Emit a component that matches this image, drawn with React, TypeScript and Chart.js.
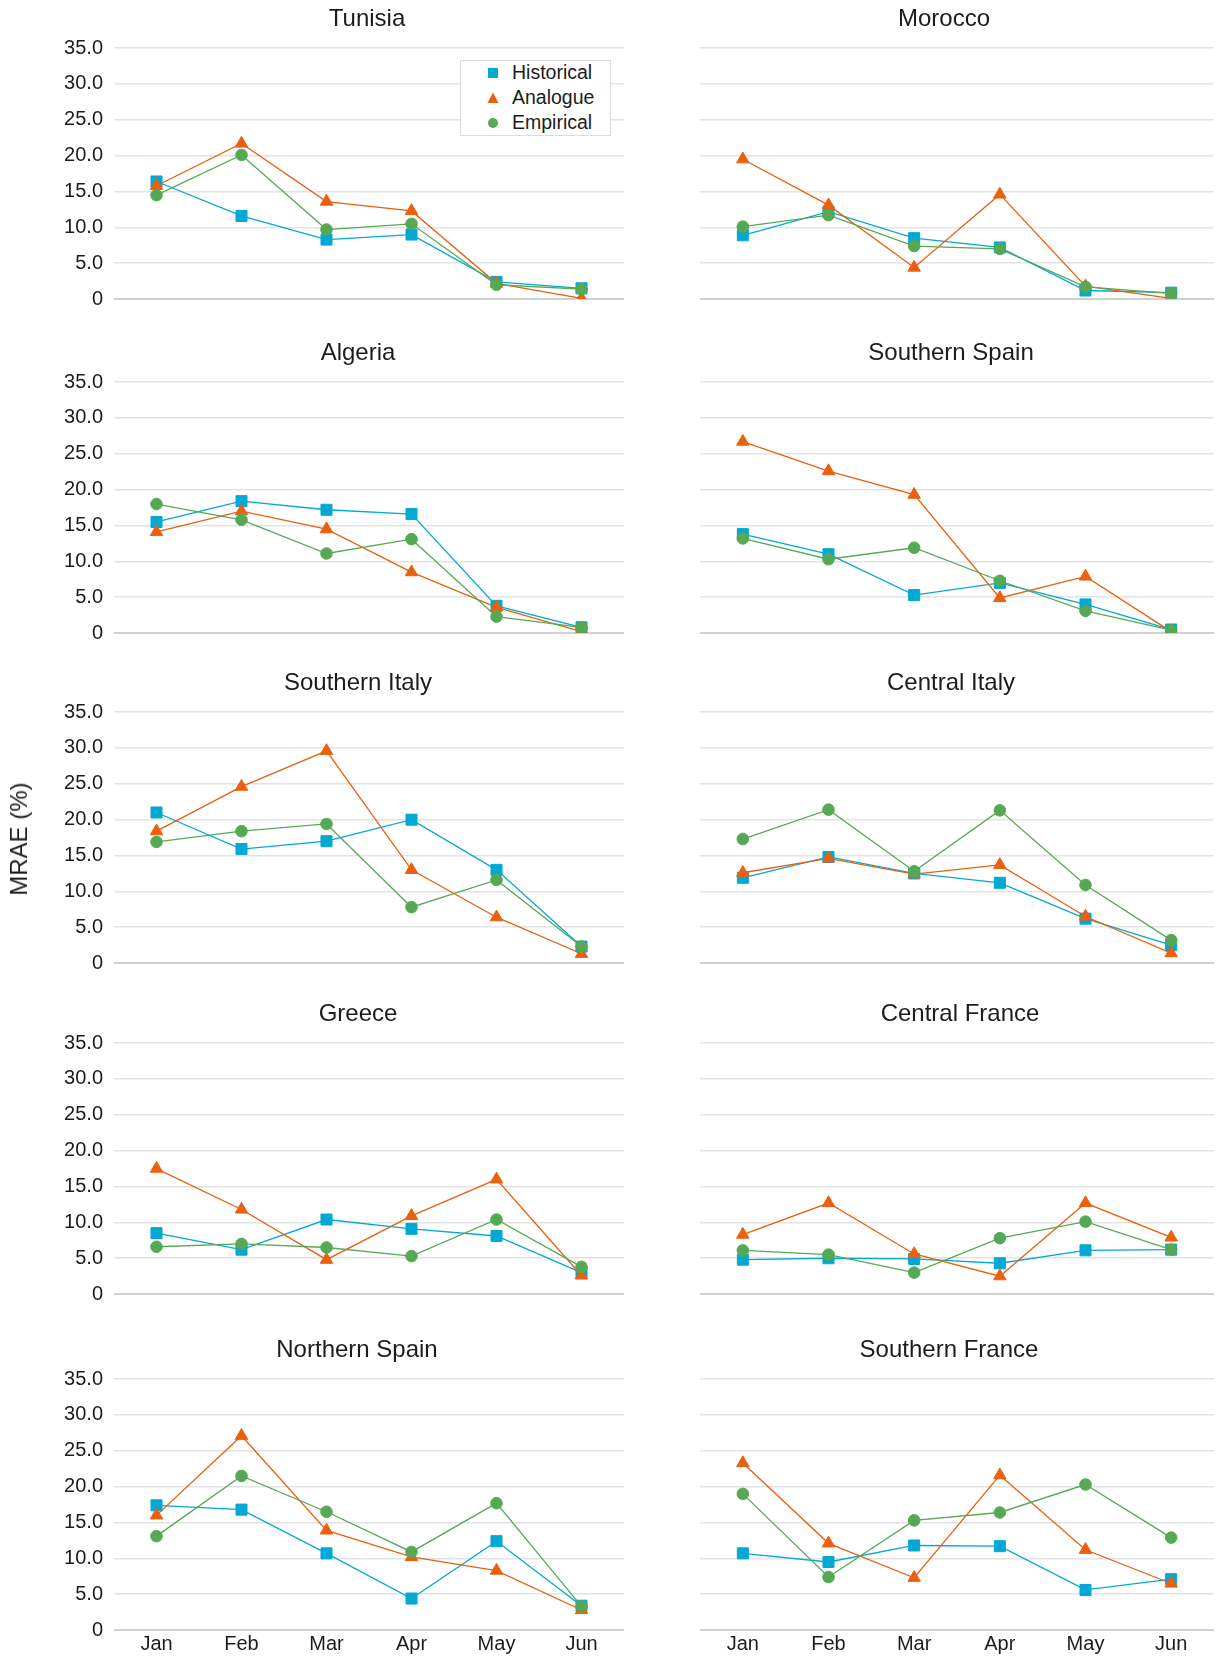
import React, { useEffect, useRef } from "react";
import { Chart, registerables } from "chart.js";

Chart.register(...registerables);

const FONT = "'Liberation Sans', Arial, Helvetica, sans-serif";
Chart.defaults.font.family = FONT;

const MONTHS = ["Jan", "Feb", "Mar", "Apr", "May", "Jun"];
const SERIES_NAMES = ["Historical", "Analogue", "Empirical"];
const Y_TICKS_MAX = 35;
const Y_STEP = 5;
const Y_TITLE = "MRAE (%)";

const tunisiaHistorical = [16.4, 11.6, 8.3, 9.0, 2.4, 1.5];
const tunisiaAnalogue = [15.8, 21.7, 13.6, 12.3, 2.2, 0.1];
const tunisiaEmpirical = [14.5, 20.1, 9.7, 10.5, 2.0, 1.4];

const moroccoHistorical = [8.9, 12.2, 8.5, 7.2, 1.2, 0.9];
const moroccoAnalogue = [19.5, 13.1, 4.4, 14.6, 1.8, 0.1];
const moroccoEmpirical = [10.1, 11.7, 7.4, 7.0, 1.7, 0.8];

const algeriaHistorical = [15.5, 18.4, 17.2, 16.6, 3.8, 0.8];
const algeriaAnalogue = [14.1, 17.0, 14.5, 8.5, 3.6, 0.2];
const algeriaEmpirical = [18.0, 15.8, 11.1, 13.1, 2.3, 0.8];

const southernSpainHistorical = [13.8, 11.0, 5.3, 7.0, 4.0, 0.5];
const southernSpainAnalogue = [26.7, 22.6, 19.3, 4.9, 7.9, 0.2];
const southernSpainEmpirical = [13.2, 10.3, 11.9, 7.3, 3.1, 0.4];

const southernItalyHistorical = [21.0, 15.9, 17.0, 20.0, 13.0, 2.3];
const southernItalyAnalogue = [18.4, 24.6, 29.6, 13.0, 6.4, 1.3];
const southernItalyEmpirical = [16.9, 18.4, 19.4, 7.8, 11.6, 2.3];

const centralItalyHistorical = [11.9, 14.8, 12.5, 11.2, 6.2, 2.5];
const centralItalyAnalogue = [12.6, 14.6, 12.4, 13.7, 6.5, 1.4];
const centralItalyEmpirical = [17.3, 21.4, 12.8, 21.3, 10.9, 3.2];

const greeceHistorical = [8.5, 6.2, 10.4, 9.1, 8.1, 3.0];
const greeceAnalogue = [17.5, 11.8, 4.8, 10.9, 16.0, 2.6];
const greeceEmpirical = [6.6, 7.0, 6.5, 5.3, 10.4, 3.8];

const centralFranceHistorical = [4.8, 5.0, 4.9, 4.3, 6.1, 6.2];
const centralFranceAnalogue = [8.3, 12.7, 5.6, 2.5, 12.7, 7.9];
const centralFranceEmpirical = [6.1, 5.5, 3.0, 7.8, 10.1, 6.2];

const northernSpainHistorical = [17.4, 16.8, 10.7, 4.4, 12.4, 3.4];
const northernSpainAnalogue = [16.0, 27.1, 13.9, 10.2, 8.3, 2.8];
const northernSpainEmpirical = [13.1, 21.5, 16.5, 10.9, 17.7, 3.3];

const southernFranceHistorical = [10.7, 9.5, 11.8, 11.7, 5.6, 7.1];
const southernFranceAnalogue = [23.3, 12.1, 7.3, 21.6, 11.2, 6.5];
const southernFranceEmpirical = [19.0, 7.4, 15.3, 16.4, 20.3, 12.9];

const PANELS = [
  { title: "Tunisia", hist: tunisiaHistorical, ana: tunisiaAnalogue, emp: tunisiaEmpirical, shift: -2 },
  { title: "Morocco", hist: moroccoHistorical, ana: moroccoAnalogue, emp: moroccoEmpirical, shift: -13 },
  { title: "Algeria", hist: algeriaHistorical, ana: algeriaAnalogue, emp: algeriaEmpirical, shift: -11 },
  { title: "Southern Spain", hist: southernSpainHistorical, ana: southernSpainAnalogue, emp: southernSpainEmpirical, shift: -6 },
  { title: "Southern Italy", hist: southernItalyHistorical, ana: southernItalyAnalogue, emp: southernItalyEmpirical, shift: -11 },
  { title: "Central Italy", hist: centralItalyHistorical, ana: centralItalyAnalogue, emp: centralItalyEmpirical, shift: -6 },
  { title: "Greece", hist: greeceHistorical, ana: greeceAnalogue, emp: greeceEmpirical, shift: -11 },
  { title: "Central France", hist: centralFranceHistorical, ana: centralFranceAnalogue, emp: centralFranceEmpirical, shift: 3 },
  { title: "Northern Spain", hist: northernSpainHistorical, ana: northernSpainAnalogue, emp: northernSpainEmpirical, shift: -12 },
  { title: "Southern France", hist: southernFranceHistorical, ana: southernFranceAnalogue, emp: southernFranceEmpirical, shift: -8 },
];

const BLUE = "#03a8d4";
const ORANGE = "#ea600e";
const GREEN = "#55a955";
const TEXT = "#1c1c1c";

const ROW_PLOT_TOPS = [48, 381.7, 712.3, 1043.3, 1378.6];
const PLOT_H = 251;
const TITLE_BLOCK = 43.1; // 28.8 (title line) + 14.3 padding

// shifts the centred title horizontally (visual offset only)
const titleShiftPlugin = {
  id: "titleShift",
  afterLayout(chart: any, _args: any, opts: any) {
    const t = chart.titleBlock;
    const d = (opts && opts.dx) || 0;
    if (t && d) {
      t.left += d;
      t.right += d;
    }
  },
};

type PanelProps = {
  title: string;
  hist: number[];
  ana: number[];
  emp: number[];
  row: number;
  col: number;
  shift: number;
};

function Panel({ title, hist, ana, emp, row, col, shift }: PanelProps) {
  const ref = useRef<HTMLCanvasElement | null>(null);
  const isLeft = col === 0;
  const isBottom = row === ROW_PLOT_TOPS.length - 1;
  const L = isLeft ? 0 : 640;
  const W = isLeft ? 640 : 581;
  const padR = isLeft ? 16 : 7;
  const yAxisW = isLeft ? 114 : 60;
  const xAxisH = isBottom ? 30 : 0;
  const padB = isBottom ? 0 : 14;
  const top = ROW_PLOT_TOPS[row] - TITLE_BLOCK;
  const H = TITLE_BLOCK + PLOT_H + xAxisH + padB;

  useEffect(() => {
    if (!ref.current) return;
    const chart = new Chart(ref.current, {
      type: "line",
      data: {
        labels: MONTHS,
        datasets: [
          {
            label: SERIES_NAMES[0],
            data: hist,
            borderColor: BLUE,
            backgroundColor: BLUE,
            pointStyle: "rect",
            pointRadius: 7.8,
            pointBorderWidth: 1,
            borderWidth: 1.3,
            tension: 0,
            order: 2,
          },
          {
            label: SERIES_NAMES[1],
            data: ana,
            borderColor: ORANGE,
            backgroundColor: ORANGE,
            pointStyle: "triangle",
            pointRadius: 7.2,
            pointBorderWidth: 1,
            borderWidth: 1.3,
            tension: 0,
            order: 1,
          },
          {
            label: SERIES_NAMES[2],
            data: emp,
            borderColor: GREEN,
            backgroundColor: GREEN,
            pointStyle: "circle",
            pointRadius: 5.8,
            pointBorderWidth: 1,
            borderWidth: 1.3,
            tension: 0,
            order: 0,
          },
        ],
      },
      plugins: [titleShiftPlugin],
      options: {
        animation: false,
        responsive: true,
        maintainAspectRatio: false,
        layout: { autoPadding: false, padding: { left: 0, right: padR, top: 0, bottom: padB } },
        plugins: {
          legend: { display: false },
          tooltip: { enabled: false },
          titleShift: { dx: shift },
          title: {
            display: true,
            text: title,
            color: TEXT,
            font: { size: 24, weight: "normal", family: FONT },
            padding: { top: 0, bottom: 14.3 },
            fullSize: false,
          },
        },
        scales: {
          x: {
            offset: true,
            grid: { display: false, drawTicks: false },
            border: { display: false },
            ticks: {
              display: isBottom,
              padding: 2,
              color: TEXT,
              font: { size: 20, family: FONT },
              maxRotation: 0,
              autoSkip: false,
            },
            afterFit: (s: any) => {
              s.height = xAxisH;
              s.paddingLeft = 0;
              s.paddingRight = 0;
            },
          },
          y: {
            min: 0,
            max: Y_TICKS_MAX,
            border: { display: false },
            grid: {
              drawTicks: false,
              color: (ctx: any) => (ctx.tick && ctx.tick.value === 0 ? "#d0d0d0" : "#e3e3e3"),
              lineWidth: (ctx: any) => (ctx.tick && ctx.tick.value === 0 ? 2 : 1.5),
            },
            ticks: {
              display: isLeft,
              stepSize: Y_STEP,
              padding: 11,
              color: TEXT,
              font: { size: 20, family: FONT },
              callback: (v: any) => (Number(v) === 0 ? "0" : Number(v).toFixed(1)),
            },
            afterFit: (s: any) => {
              s.width = yAxisW;
              s.paddingTop = 0;
              s.paddingBottom = 0;
            },
          },
        },
      },
    } as any);
    return () => chart.destroy();
  }, [title, hist, ana, emp, row, col, shift]);

  return (
    <div style={{ position: "absolute", left: L, top, width: W, height: H }}>
      <canvas ref={ref} />
    </div>
  );
}

function LegendMarker({ kind, color }: { kind: string; color: string }) {
  return (
    <svg width={12} height={12} style={{ position: "absolute", left: -6, top: -6 }}>
      {kind === "rect" && <rect x={1} y={1} width={10} height={10} fill={color} />}
      {kind === "triangle" && <polygon points="6,0.5 11.5,11 0.5,11" fill={color} />}
      {kind === "circle" && <circle cx={6} cy={6} r={5} fill={color} />}
    </svg>
  );
}

function Legend() {
  const items = [
    { name: SERIES_NAMES[0], kind: "rect", color: BLUE, y: 72 },
    { name: SERIES_NAMES[1], kind: "triangle", color: ORANGE, y: 96.5 },
    { name: SERIES_NAMES[2], kind: "circle", color: GREEN, y: 121.5 },
  ];
  return (
    <>
      <div
        style={{
          position: "absolute",
          left: 460,
          top: 60,
          width: 149,
          height: 74,
          border: "1px solid #dcdcdc",
          background: "#fff",
        }}
      />
      {items.map((it) => (
        <React.Fragment key={it.name}>
          <div style={{ position: "absolute", left: 493, top: it.y + 1 }}>
            <LegendMarker kind={it.kind} color={it.color} />
          </div>
          <div
            style={{
              position: "absolute",
              left: 512,
              top: it.y - 12,
              height: 24,
              lineHeight: "24px",
              fontFamily: FONT,
              fontSize: 19.5,
              color: TEXT,
              whiteSpace: "nowrap",
            }}
          >
            {it.name}
          </div>
        </React.Fragment>
      ))}
    </>
  );
}

export default function App() {
  return (
    <div
      style={{
        position: "absolute",
        left: 0,
        top: 0,
        width: 1221,
        height: 1657,
        background: "#fff",
        overflow: "hidden",
      }}
    >
      {PANELS.map((p, i) => (
        <Panel
          key={p.title}
          title={p.title}
          hist={p.hist}
          ana={p.ana}
          emp={p.emp}
          shift={p.shift}
          row={Math.floor(i / 2)}
          col={i % 2}
        />
      ))}
      <Legend />
      <div
        style={{
          position: "absolute",
          left: 19,
          top: 838.5,
          transform: "translate(-50%, -50%) rotate(-90deg)",
          fontFamily: FONT,
          fontSize: 24,
          color: TEXT,
          whiteSpace: "nowrap",
        }}
      >
        {Y_TITLE}
      </div>
    </div>
  );
}
